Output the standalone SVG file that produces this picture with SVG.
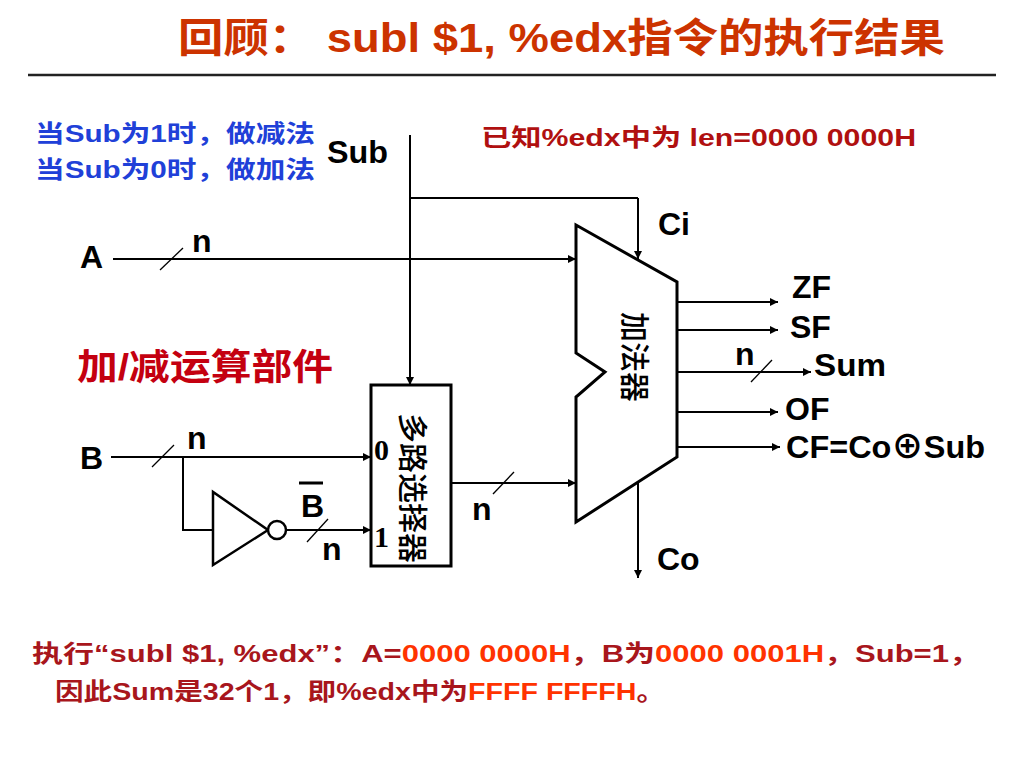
<svg xmlns="http://www.w3.org/2000/svg" width="1024" height="768" viewBox="0 0 1024 768">
<defs>
<marker id="arr" viewBox="0 0 10 10" refX="10" refY="5" markerWidth="10" markerHeight="8" orient="auto" markerUnits="userSpaceOnUse"><path d="M0,0 L10,5 L0,10 z" fill="#000"/></marker>
<style>
.w{stroke:#000;stroke-width:2;fill:none}
.wa{stroke:#000;stroke-width:2;fill:none;marker-end:url(#arr)}
.sl{stroke:#000;stroke-width:1.3;fill:none}
.box{stroke:#000;stroke-width:3;fill:#fff}
.lb{font-family:'Liberation Sans','Noto Sans CJK SC',sans-serif;font-weight:bold;font-size:32px;fill:#000}
.cn{font-family:'Noto Sans CJK SC',sans-serif;font-weight:500;font-size:30px;fill:#000}
.sf{font-family:'Liberation Serif',serif;font-weight:bold;font-size:30px;fill:#000}
.t{font-family:'Liberation Sans','Noto Sans CJK SC',sans-serif;font-weight:bold}
.dr{fill:#A8161C}
.or{fill:#FF3300}
</style>
</defs>
<rect width="1024" height="768" fill="#fff"/>
<g id="title">
<text class="t" x="178" y="52" font-size="40" fill="#CC3300" textLength="767" lengthAdjust="spacingAndGlyphs">回顾： subl $1, %edx指令的执行结果</text>
<line x1="28" y1="75" x2="996" y2="75" stroke="#222" stroke-width="2.5"/>
</g>
<g id="notes">
<text class="t" x="35" y="142" font-size="24" fill="#2040D8" textLength="280" lengthAdjust="spacingAndGlyphs">当Sub为1时，做减法</text>
<text class="t" x="35" y="178" font-size="24" fill="#2040D8" textLength="280" lengthAdjust="spacingAndGlyphs">当Sub为0时，做加法</text>
<text class="t" x="481" y="146" font-size="24" fill="#B01010" textLength="435" lengthAdjust="spacingAndGlyphs">已知%edx中为 len=0000 0000H</text>
<text class="t" x="77" y="380" font-size="36" fill="#C40010" textLength="256" lengthAdjust="spacingAndGlyphs">加/减运算部件</text>
</g>
<g id="connectors">
<path class="w" d="M410,135 V198 H638"/>
<path class="wa" d="M410,198 V385"/>
<path class="wa" d="M638,198 V259"/>
<path class="wa" d="M113,259 H576"/>
<path class="sl" d="M160,270 L183,248"/>
<path class="wa" d="M111,457 H371"/>
<path class="sl" d="M152,467 L174,445"/>
<path class="w" d="M183,457 V530 H213"/>
<path class="wa" d="M286,530 H371"/>
<path class="sl" d="M307,542 L328,519"/>
<path class="wa" d="M451,483 H576"/>
<path class="sl" d="M493,494 L514,472"/>
<path class="wa" d="M638,482 V578"/>
<path class="wa" d="M677,302 H778"/>
<path class="wa" d="M677,330 H778"/>
<path class="wa" d="M677,372 H811"/>
<path class="sl" d="M751,382 L772,360"/>
<path class="wa" d="M677,412 H778"/>
<path class="wa" d="M677,447 H780"/>
</g>
<g id="adder">
<path class="box" d="M576,225 L677,282 L677,457 L576,522 L576,397 L605,372 L576,353 Z"/>
<text class="cn" transform="translate(637,357) rotate(90)" text-anchor="middle" dominant-baseline="central" font-size="32">加法器</text>
</g>
<g id="mux">
<rect class="box" x="371" y="385" width="80" height="181"/>
<text class="cn" transform="translate(415,488) rotate(90)" text-anchor="middle" dominant-baseline="central" font-size="30">多路选择器</text>
<text class="sf" x="374" y="460" font-size="28">0</text>
<text class="sf" x="374" y="547" font-size="28">1</text>
</g>
<g id="inverter">
<path d="M213,492 L213,565 L268,530 Z" stroke="#000" stroke-width="2.5" fill="#fff"/>
<circle cx="277" cy="530" r="9" stroke="#000" stroke-width="2.5" fill="#fff"/>
</g>
<g id="labels">
<text class="lb" x="327" y="163" textLength="61" lengthAdjust="spacingAndGlyphs">Sub</text>
<text class="lb" x="80" y="268">A</text>
<text class="lb" x="192" y="252">n</text>
<text class="lb" x="80" y="469">B</text>
<text class="lb" x="187" y="449">n</text>
<text class="lb" x="301" y="517">B</text>
<line x1="299" y1="483" x2="323" y2="483" stroke="#000" stroke-width="3"/>
<text class="lb" x="322" y="560">n</text>
<text class="lb" x="472" y="520">n</text>
<text class="lb" x="658" y="235">Ci</text>
<text class="lb" x="657" y="570">Co</text>
<text class="lb" x="792" y="298">ZF</text>
<text class="lb" x="790" y="338">SF</text>
<text class="lb" x="735" y="365">n</text>
<text class="lb" x="814" y="376" textLength="72" lengthAdjust="spacingAndGlyphs">Sum</text>
<text class="lb" x="785" y="420">OF</text>
<text class="lb" x="786" y="458" textLength="199" lengthAdjust="spacingAndGlyphs">CF=Co⊕Sub</text>
</g>
<g id="bottom">
<text class="t" x="32" y="662" font-size="24" textLength="948" lengthAdjust="spacingAndGlyphs"><tspan class="dr">执行“subl $1, %edx”：A=</tspan><tspan class="or">0000 0000H</tspan><tspan class="dr">，B为</tspan><tspan class="or">0000 0001H</tspan><tspan class="dr">，Sub=1，</tspan></text>
<text class="t" x="55" y="700" font-size="24" textLength="610" lengthAdjust="spacingAndGlyphs"><tspan class="dr">因此Sum是32个1，即%edx中为</tspan><tspan class="or">FFFF FFFFH</tspan><tspan class="dr">。</tspan></text>
</g>
</svg>
